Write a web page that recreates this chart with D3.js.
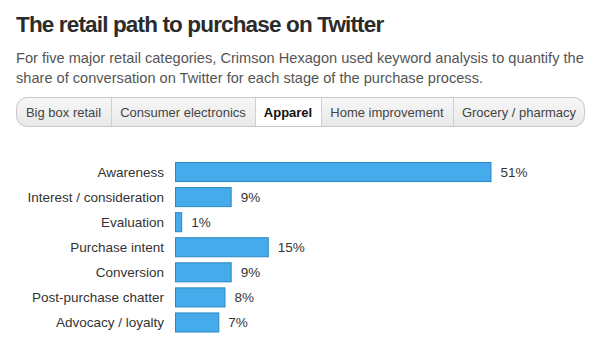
<!DOCTYPE html>
<html>
<head>
<meta charset="utf-8">
<script src="https://cdn.jsdelivr.net/npm/d3@7"></script>
<style>
    body { margin: 0; background: #fff; }
    text { font-family: "Liberation Sans", Arial, Helvetica, sans-serif; }
</style>
</head>
<body>
<div id="chart"></div>
<script>

// Chart data
var stages = ["Awareness", "Interest / consideration", "Evaluation", "Purchase intent", "Conversion", "Post-purchase chatter", "Advocacy / loyalty"];
var shares = [51, 9, 1, 15, 9, 8, 7];
var tabs = ["Big box retail", "Consumer electronics", "Apparel", "Home improvement", "Grocery / pharmacy"];
var tabEdges = [16, 111, 255, 321, 453, 585];
var activeTab = "Apparel";

var width = 600, height = 360;

var svg = d3.select("#chart")
    .append("svg")
    .attr("width", width)
    .attr("height", height);

// Title and subtitle
svg.append("text")
    .attr("x", 16)
    .attr("y", 32)
    .style("font-size", "22.5px")
    .style("font-weight", "bold")
    .style("letter-spacing", "-0.85px")
    .style("fill", "#2b2b2b")
    .text("The retail path to purchase on Twitter");

var subtitle = ["For five major retail categories, Crimson Hexagon used keyword analysis to quantify the",
    "share of conversation on Twitter for each stage of the purchase process."];

svg.selectAll(".subtitle")
    .data(subtitle)
    .enter()
    .append("text")
    .attr("class", "subtitle")
    .attr("x", 16)
    .attr("y", function (d, i) { return 63 + i * 20; })
    .style("font-size", "14.6px")
    .style("fill", "#555")
    .text(function (d) { return d; });

// Tab bar
var defs = svg.append("defs");
var grad = defs.append("linearGradient")
    .attr("id", "tabGrad")
    .attr("x1", 0).attr("y1", 0).attr("x2", 0).attr("y2", 1);
grad.append("stop").attr("offset", "0%").attr("stop-color", "#f7f7f7");
grad.append("stop").attr("offset", "100%").attr("stop-color", "#e8e8e8");

defs.append("clipPath")
    .attr("id", "tabClip")
    .append("rect")
    .attr("x", tabEdges[0])
    .attr("y", 97)
    .attr("width", tabEdges[tabEdges.length - 1] - tabEdges[0])
    .attr("height", 30)
    .attr("rx", 11);

var tabGroup = svg.append("g").attr("clip-path", "url(#tabClip)");

tabGroup.selectAll("rect")
    .data(tabs)
    .enter()
    .append("rect")
    .attr("x", function (d, i) { return tabEdges[i]; })
    .attr("y", 97)
    .attr("width", function (d, i) { return tabEdges[i + 1] - tabEdges[i]; })
    .attr("height", 30)
    .attr("fill", function (d) { return d === activeTab ? "#fff" : "url(#tabGrad)"; });

tabGroup.selectAll("line")
    .data(tabEdges.slice(1, -1))
    .enter()
    .append("line")
    .attr("x1", function (d) { return d + 0.5; })
    .attr("x2", function (d) { return d + 0.5; })
    .attr("y1", 97)
    .attr("y2", 127)
    .attr("stroke", "#d0d0d0");

svg.append("rect")
    .attr("x", tabEdges[0] + 0.5)
    .attr("y", 97.5)
    .attr("width", tabEdges[tabEdges.length - 1] - tabEdges[0] - 1)
    .attr("height", 29)
    .attr("rx", 11)
    .attr("fill", "none")
    .attr("stroke", "#c8c8c8");

svg.selectAll(".tab-label")
    .data(tabs)
    .enter()
    .append("text")
    .attr("class", "tab-label")
    .attr("x", function (d, i) { return (tabEdges[i] + tabEdges[i + 1]) / 2; })
    .attr("y", 117)
    .attr("text-anchor", "middle")
    .style("font-size", "13px")
    .style("font-weight", function (d) { return d === activeTab ? "bold" : "normal"; })
    .style("fill", function (d) { return d === activeTab ? "#111" : "#444"; })
    .text(function (d) { return d; });

// Bar chart
var xScale = d3.scaleLinear()
    .domain([0, 51])
    .range([175, 490.5]);

var yScale = d3.scaleBand()
    .domain(stages)
    .range([159, 334.5])
    .paddingInner(0.24)
    .paddingOuter(0.12);

var bars = svg.append("g");

bars.selectAll("rect")
    .data(stages)
    .enter()
    .append("rect")
    .attr("x", xScale(0) + 0.5)
    .attr("y", function (d) { return yScale(d) + 0.5; })
    .attr("width", function (d, i) { return xScale(shares[i]) - xScale(0); })
    .attr("height", yScale.bandwidth())
    .attr("fill", "#45abeb")
    .attr("stroke", "#2a89c2");

bars.selectAll(".stage-label")
    .data(stages)
    .enter()
    .append("text")
    .attr("class", "stage-label")
    .attr("x", 164)
    .attr("y", function (d) { return yScale(d) + yScale.bandwidth() / 2 + 5; })
    .attr("text-anchor", "end")
    .style("font-size", "13.5px")
    .style("fill", "#333")
    .text(function (d) { return d; });

bars.selectAll(".value-label")
    .data(stages)
    .enter()
    .append("text")
    .attr("class", "value-label")
    .attr("x", function (d, i) { return xScale(shares[i]) + 10; })
    .attr("y", function (d) { return yScale(d) + yScale.bandwidth() / 2 + 5; })
    .style("font-size", "13.5px")
    .style("fill", "#333")
    .text(function (d, i) { return shares[i] + "%"; });

</script>
</body>
</html>
